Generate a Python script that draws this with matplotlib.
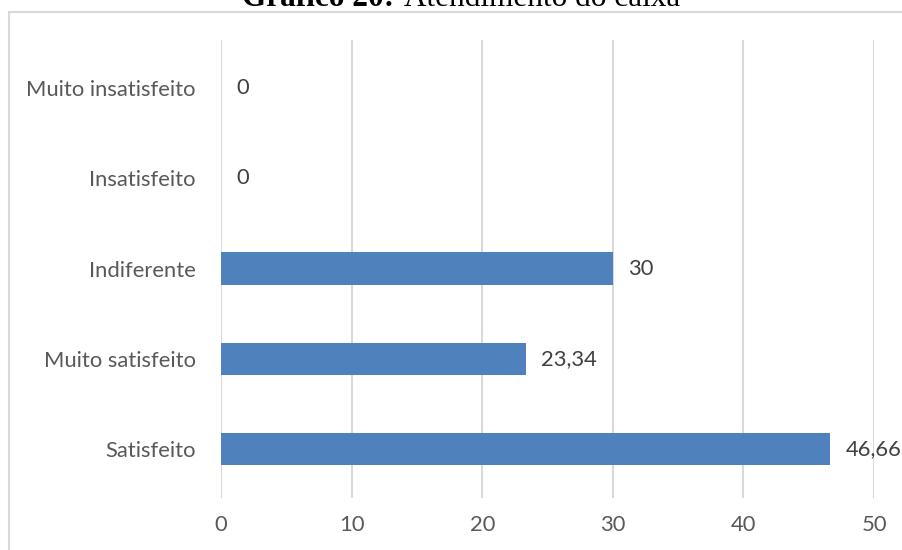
import matplotlib
matplotlib.use("Agg")
import matplotlib.pyplot as plt
from matplotlib.patches import Rectangle

categories = ["Satisfeito", "Muito satisfeito", "Indiferente", "Insatisfeito", "Muito insatisfeito"]
values = [46.66, 23.34, 30, 0, 0]
value_labels = ["46,66", "23,34", "30", "0", "0"]
xticks = [0, 10, 20, 30, 40, 50]

W, H = 903, 550
fig = plt.figure(figsize=(W / 100, H / 100), dpi=100)
fig.patch.set_facecolor("white")

# outer chart border (extends beyond the image on right/bottom)
fig.patches.append(Rectangle((9 / W, -0.05), 1.2, 1 - 11.5 / H + 0.05,
                             transform=fig.transFigure, fill=False,
                             edgecolor="#D9D9D9", linewidth=1.5))

# title (partially cut off at top, as in the reference)
title_y = 1 - 6 / H
fig.text(242 / W, title_y, "Gráfico 20:", family="Liberation Serif", weight="bold",
         fontsize=22.5, va="baseline", ha="left", color="black")
fig.text(404 / W, title_y, "Atendimento do caixa", family="Liberation Serif",
         fontsize=22.5, va="baseline", ha="left", color="black")

left, right = 221 / W, 874 / W
top, bottom = 1 - 40 / H, 1 - 498 / H
ax = fig.add_axes([left, bottom, right - left, top - bottom])

ypos = list(range(len(categories)))
ax.barh(ypos, values, height=0.355, color="#4F81BD", zorder=3)

ax.set_xlim(0, 50)
ax.set_ylim(-0.543, 4.532)
ax.set_xticks(xticks)
ax.set_xticklabels([str(x) for x in xticks])
ax.set_yticks(ypos)
ax.set_yticklabels(categories)

font = "Lato"
for lab in ax.get_xticklabels() + ax.get_yticklabels():
    lab.set_family(font)
    lab.set_fontsize(15.8)
    lab.set_color("#595959")
ax.tick_params(axis="both", length=0)
ax.tick_params(axis="x", pad=12)
ax.tick_params(axis="y", pad=18)

ax.grid(axis="x", color="#D9D9D9", linewidth=1.5, zorder=0)
for s in ax.spines.values():
    s.set_visible(False)

for y, v, lab in zip(ypos, values, value_labels):
    ax.annotate(lab, (v, y), xytext=(15, 0), textcoords="offset pixels",
                ha="left", va="center", family=font, fontsize=15.8, color="#404040")

fig.savefig("out.png", dpi=100)
